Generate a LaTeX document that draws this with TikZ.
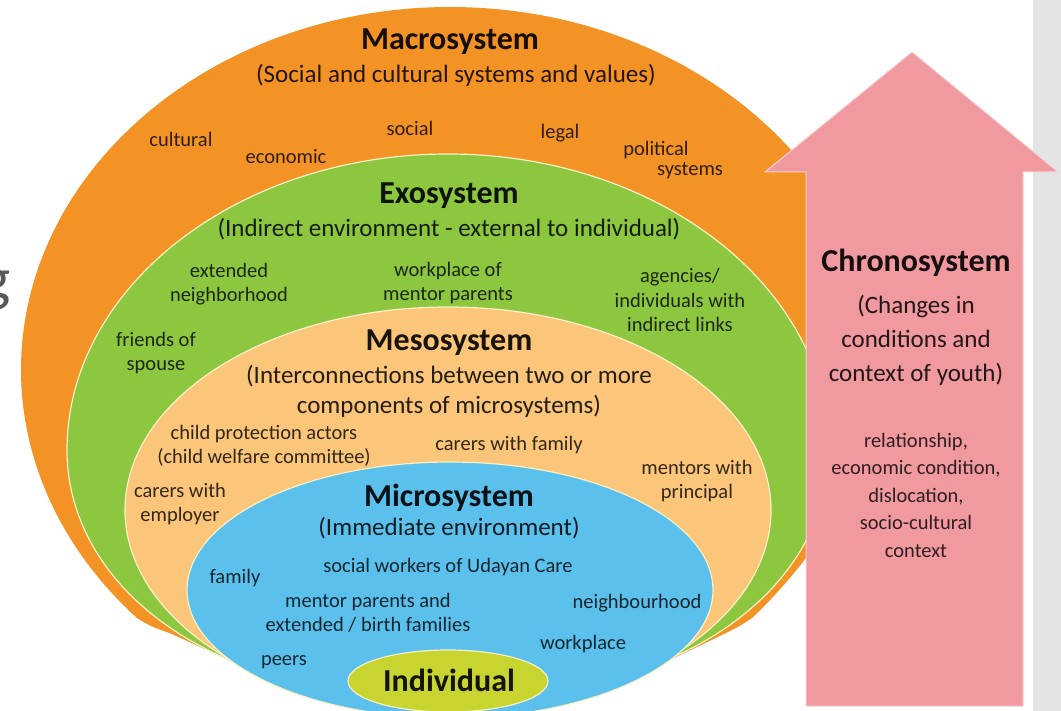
\documentclass[tikz,border=0pt]{standalone}
\usepackage{fontspec}
\setmainfont{Carlito}

\definecolor{macro}{HTML}{F39325}
\definecolor{exo}{HTML}{8DC63F}
\definecolor{meso}{HTML}{FBC57A}
\definecolor{micro}{HTML}{5BC1EC}
\definecolor{indiv}{HTML}{C8D42F}
\definecolor{chrono}{HTML}{F0999F}
\definecolor{rimline}{HTML}{F6F1C6}
\definecolor{sidegray}{HTML}{E4E4E4}

\newcommand{\titlesz}{\fontsize{32}{36}\selectfont\bfseries}
\newcommand{\subsz}{\fontsize{25}{30}\selectfont}
\newcommand{\itemsz}{\fontsize{20.5}{24.5}\selectfont}

\begin{document}
\begin{tikzpicture}[x=1pt, y=-1pt,
    systitle/.style={font=\titlesz, text=black, text opacity=0.9, inner sep=0pt},
    syssub/.style={font=\subsz, align=center, text=black, text opacity=0.85, inner sep=0pt},
    sysitem/.style={font=\itemsz, align=center, text=black, text opacity=0.8, inner sep=0pt},
    rim/.style={draw=rimline, line width=1.2pt}]
    \useasboundingbox (0,0) rectangle (1061,711);
    \fill[sidegray] (1033,0) rectangle (1061,711);
    \node[anchor=base east, inner sep=0pt, font=\fontsize{62}{62}\selectfont, text=black!65] (cut) at (11,300) {g};

    % layers, outermost first
    \fill[macro] (450,7) .. controls (213,7) and (21,170) .. (21,370)
        .. controls (21,462) and (63,551) .. (137,618) .. controls (150,626) .. (172,634)
        -- (280,684) -- (620,684) -- (724,634) .. controls (740,626) .. (752,618)
        .. controls (826,548) and (879,455) .. (879,370)
        .. controls (879,170) and (687,7) .. (450,7) -- cycle;
    \filldraw[fill=exo, rim] (448,154) .. controls (238,154) and (67,287) .. (67,450)
        .. controls (67,580) and (200,700) .. (448,700)
        .. controls (696,700) and (829,580) .. (829,450)
        .. controls (829,287) and (658,154) .. (448,154) -- cycle;
    \filldraw[fill=meso, rim] (448,510) ellipse [x radius=323, y radius=203];
    \filldraw[fill=micro, rim] (450,590) ellipse [x radius=263, y radius=128];
    \filldraw[fill=indiv, rim] (448,681) ellipse [x radius=100, y radius=31];

    % chronosystem arrow
    \filldraw[fill=chrono, draw=white!55!chrono, line width=1pt]
        (806,706) -- (806,172) -- (765,172) -- (912,52) -- (1058,172)
        -- (1023,172) -- (1023,706) -- cycle;

    % macrosystem
    \node[systitle] (macT) at (450,42) {Macrosystem};
    \node[syssub] (macS) at (456,75) {(Social and cultural systems and values)};
    \node[sysitem] (cult) at (181,139) {cultural};
    \node[sysitem] (econ) at (286,157) {economic};
    \node[sysitem] (soc) at (410,128) {social};
    \node[sysitem] (legal) at (560,133) {legal};
    \node[sysitem] (pol) at (656,150) {political};
    \node[sysitem] (polsys) at (690,171) {systems};

    % exosystem
    \node[systitle] (exoT) at (449,196) {Exosystem};
    \node[syssub] (exoS) at (449,229) {(Indirect environment - external to individual)};
    \node[sysitem] (extn) at (229,284) {extended\\neighborhood};
    \node[sysitem] (wkpl) at (448,283) {workplace of\\mentor parents};
    \node[sysitem] (agen) at (680,300) {agencies/\\individuals with\\indirect links};
    \node[sysitem] (frnd) at (156,353) {friends of\\spouse};

    % mesosystem
    \node[systitle] (mesT) at (449,343) {Mesosystem};
    \node[syssub] (mesS) at (449,391) {(Interconnections between two or more\\components of microsystems)};
    \node[sysitem] (cpa) at (264,446) {child protection actors\\(child welfare committee)};
    \node[sysitem] (cwf) at (509,445) {carers with family};
    \node[sysitem] (mwp) at (697,481) {mentors with\\principal};
    \node[sysitem] (cwe) at (180,504) {carers with\\employer};

    % microsystem
    \node[systitle] (micT) at (449,498) {Microsystem};
    \node[syssub] (micS) at (449,528) {(Immediate environment)};
    \node[sysitem] (swk) at (448,567) {social workers of Udayan Care};
    \node[sysitem] (fam) at (235,578) {family};
    \node[sysitem] (mpar) at (368,613) {mentor parents and\\extended / birth families};
    \node[sysitem] (nbh) at (637,603) {neighbourhood};
    \node[sysitem] (wplc) at (583,644) {workplace};
    \node[sysitem] (peer) at (284,662) {peers};
    \node[systitle] (ind) at (449,680) {Individual};

    % chronosystem
    \node[systitle] (chrT) at (916,263) {Chronosystem};
    \node[syssub, font=\fontsize{25}{34}\selectfont] (chrS) at (916,340) {(Changes in\\conditions and\\context of youth)};
    \node[sysitem, font=\fontsize{20.5}{27.5}\selectfont] (chrL) at (916,495)
        {relationship,\\economic condition,\\dislocation,\\socio-cultural\\context};
\end{tikzpicture}
\end{document}
